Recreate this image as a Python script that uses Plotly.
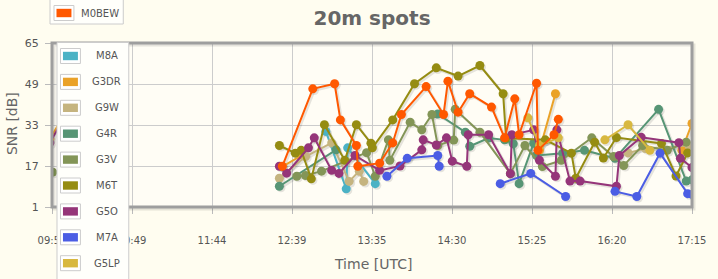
import plotly.graph_objects as go

# ---------------- data (time UTC, SNR dB); None = gap in the series ----------------
m8a_time = ["13:03", "13:17", "13:18", "13:37"]
m8a_snr = [30.5, 8.1, 24.1, 10.1]

g3dr_time = ["09:53", "10:06", None, "12:33", "12:47", None, "15:30", "15:41", None, "17:08", "17:15"]
g3dr_snr = [27.5, 40, None, 16.8, 21.3, None, 23.1, 45.2, None, 23.1, 33.6]

g9w_time = ["12:31", "12:49", "13:07", "13:19", "13:26", "13:29", None, "16:31", "16:43", "17:13"]
g9w_snr = [12.2, 20.7, 26.0, 11.0, 15.0, 11.0, None, 22.1, 23.8, 25.0]

g4r_time = ["12:31", "13:10", None, "14:20", "14:39", "14:42", "14:55", "15:06", "15:12", "15:16",
            "15:26", "15:28", "15:46", "16:01", "16:22", "16:52", "17:11", "17:15"]
g4r_snr = [9.1, 23.3, None, 37.3, 30.2, 24.7, 27.9, 27.2, 25.7, 10.1,
           25.9, 21.1, 22.0, 23.1, 20.0, 39.1, 11.1, 11.6]

g3v_time = ["09:55", None, "12:43", "12:49", "13:00", "13:31", "13:37", "13:46", "13:47", "14:01",
            "14:09", "14:16", "14:20", "14:31", "14:32", "14:49", "15:10", "15:20", "15:32", "15:45",
            "16:06", "16:21", "16:28", "16:41", "16:58", "17:11"]
g3v_snr = [14.6, None, 13.0, 13.3, 15.0, 22.2, 13.0, 27.2, 19.2, 34.1,
           31.1, 37.1, 25.0, 27.1, 39.1, 30.2, 14.0, 25.0, 16.8, 19.2,
           28.0, 20.7, 17.2, 25.0, 23.1, 26.3]

m6t_time = ["12:31", "12:42", "12:46", "12:53", "13:02", "13:16", "13:24", "13:34", "13:35", "13:49",
            "14:04", "14:19", "14:34", "14:49", "15:05", "15:07", "15:34", "15:52", "15:55", "16:08",
            "16:14", "16:23", "16:54", "17:04", "17:12"]
m6t_snr = [25.0, 22.0, 23.1, 12.0, 33.1, 19.2, 33.1, 25.9, 24.1, 35.0,
           49.1, 55.3, 52.1, 56.2, 45.2, 27.9, 27.2, 22.0, 12.2, 26.3,
           20.1, 28.1, 25.8, 13.1, 22.1]

g5o_time = ["09:53", "10:06", None, "12:31", "12:36", "12:51", "12:55", "13:07", "13:12", "13:23",
            "13:40", "13:54", "14:09", "14:10", "14:19", "14:26", "14:30", "14:40", "14:41", "14:55",
            "15:10", "15:11", "15:26", "15:30", "15:41", "15:42", "15:51", "15:58", "16:23", "16:25",
            "16:40", "17:06", "17:07", "17:15"]
g5o_snr = [26.0, 39, None, 16.9, 14.2, 24.1, 28.0, 15.3, 14.1, 21.1,
           15.3, 17.0, 23.3, 27.2, 25.2, 28.0, 18.9, 16.9, 29.2, 29.2,
           14.0, 29.2, 31.1, 19.2, 13.0, 31.1, 11.1, 11.1, 9.1, 21.1,
           28.2, 26.1, 20.0, 16.4]

m7a_time = ["13:45", "13:59", "14:20", "14:21", None, "15:03", "15:24", "15:48", None,
            "16:22", "16:37", "16:53", "17:12", "17:15"]
m7a_snr = [13.0, 20.0, 21.1, 16.9, None, 10.1, 14.1, 5.1, None,
           7.1, 5.1, 22.0, 6.2, 5.9]

g5lp_time = ["15:22", "15:30", "15:43", None, "16:15", "16:31", "16:46"]
g5lp_snr = [35.8, 25.0, 28.0, None, 27.2, 33.1, 23.1]

m0bew_time = ["12:33", "12:54", "13:09", "13:13", "13:24", "13:25", "13:40", "13:49", "13:55", "14:12",
              "14:24", "14:27", "14:34", "14:42", "14:57", "15:06", "15:13", "15:16", "15:28", "15:29",
              "15:40", "15:43"]
m0bew_snr = [16.9, 47.1, 49.1, 35.0, 25.0, 16.9, 18.1, 26.0, 37.1, 48.0,
             37.1, 50.1, 38.0, 45.2, 40.0, 28.0, 43.2, 29.2, 49.3, 23.1,
             29.2, 35.2]

x_tick_labels = ["09:54", "10:49", "11:44", "12:39", "13:35", "14:30", "15:25", "16:20", "17:15"]
y_tick_values = [1, 17, 33, 49, 65]

legend_names = ["M8A", "G3DR", "G9W", "G4R", "G3V", "M6T", "G5O", "M7A", "G5LP"]
top_legend_name = "M0BEW"

colors = {
    "M8A": "#4bb2c5", "G3DR": "#EAA228", "G9W": "#c5b47f", "G4R": "#579575",
    "G3V": "#839557", "M6T": "#958c12", "G5O": "#953579", "M7A": "#4b5de4",
    "G5LP": "#d8b83f", "M0BEW": "#ff5800",
}

series = [
    ("M8A", m8a_time, m8a_snr), ("G3DR", g3dr_time, g3dr_snr), ("G9W", g9w_time, g9w_snr),
    ("G4R", g4r_time, g4r_snr), ("G3V", g3v_time, g3v_snr), ("M6T", m6t_time, m6t_snr),
    ("G5O", g5o_time, g5o_snr), ("M7A", m7a_time, m7a_snr), ("G5LP", g5lp_time, g5lp_snr),
    ("M0BEW", m0bew_time, m0bew_snr),
]

# ---------------- layout geometry ----------------
W, H = 718, 279
ML, MR, MT, MB = 52, 24, 43, 72
PW = W - ML - MR
PH = H - MT - MB
X0 = 9 * 60 + 54.5
X1 = 17 * 60 + 15
Y0, Y1 = 1, 65


def to_min(s):
    if s is None:
        return None
    h, m = s.split(":")
    return int(h) * 60 + int(m)


def px(x):
    return (x - ML) / PW


def py(y):
    return (MT + PH - y) / PH


fig = go.Figure()

# shadows (offset copies of the same data)
dx = 1.6 * (X1 - X0) / PW
dy = 1.6 * (Y1 - Y0) / PH
for name, t, v in series:
    xs = [None if a is None else to_min(a) + dx for a in t]
    ys = [None if b is None else b - dy for b in v]
    fig.add_trace(go.Scatter(x=xs, y=ys, mode="lines+markers", showlegend=False, hoverinfo="skip",
                             line=dict(color="rgba(0,0,0,0.10)", width=2.5),
                             marker=dict(size=9, color="rgba(0,0,0,0.10)")))

for name, t, v in series:
    fig.add_trace(go.Scatter(x=[to_min(a) for a in t], y=v, mode="lines+markers", name=name,
                             showlegend=False, connectgaps=False,
                             line=dict(color=colors[name], width=2),
                             marker=dict(size=9, color=colors[name])))

tickvals = [X0 + i * (X1 - X0) / (len(x_tick_labels) - 1) for i in range(len(x_tick_labels))]

font_fam = "DejaVu Sans"
tick_col = "#555555"

shapes = []
# plot border + shadow
shapes.append(dict(type="rect", xref="paper", yref="paper", x0=px(ML + 2), x1=px(ML + PW + 2),
                   y0=py(MT + PH + 2), y1=py(MT + 2), line=dict(color="rgba(0,0,0,0.10)", width=3),
                   layer="above"))
shapes.append(dict(type="rect", xref="paper", yref="paper", x0=0, x1=1, y0=0, y1=1,
                   line=dict(color="#9e9e9e", width=3), layer="above"))

annotations = []
# main legend box
shapes.append(dict(type="rect", xref="paper", yref="paper", x0=px(57), x1=px(129), y0=py(300), y1=py(42.5),
                   fillcolor="#fffffb", line=dict(color="#cccccc", width=1), layer="above"))
for i, nm in enumerate(legend_names):
    yc = 56 + 25.9 * i
    shapes.append(dict(type="rect", xref="paper", yref="paper", x0=px(60.5), x1=px(80.5),
                       y0=py(yc + 7.5), y1=py(yc - 7.5), fillcolor="#ffffff",
                       line=dict(color="#cccccc", width=1), layer="above"))
    shapes.append(dict(type="rect", xref="paper", yref="paper", x0=px(63), x1=px(78),
                       y0=py(yc + 4.2), y1=py(yc - 4.2), fillcolor=colors[nm],
                       line=dict(width=0), layer="above"))
    annotations.append(dict(text=nm, xref="paper", yref="paper", x=px(107), y=py(yc),
                            xanchor="center", yanchor="middle", showarrow=False,
                            font=dict(family=font_fam, size=10, color=tick_col)))

# top legend box (M0BEW)
shapes.append(dict(type="rect", xref="paper", yref="paper", x0=px(50), x1=px(123.5), y0=py(24), y1=py(-3),
                   fillcolor="#fffffb", line=dict(color="#cccccc", width=1), layer="above"))
shapes.append(dict(type="rect", xref="paper", yref="paper", x0=px(54), x1=px(74), y0=py(20.5), y1=py(5.5),
                   fillcolor="#ffffff", line=dict(color="#cccccc", width=1), layer="above"))
shapes.append(dict(type="rect", xref="paper", yref="paper", x0=px(56.5), x1=px(71.5), y0=py(17.2), y1=py(8.8),
                   fillcolor=colors["M0BEW"], line=dict(width=0), layer="above"))
annotations.append(dict(text=top_legend_name, xref="paper", yref="paper", x=px(100.5), y=py(13),
                        xanchor="center", yanchor="middle", showarrow=False,
                        font=dict(family=font_fam, size=10, color=tick_col)))

# axis titles
annotations.append(dict(text="Time [UTC]", xref="paper", yref="paper", x=px(374), y=py(264),
                        xanchor="center", yanchor="middle", showarrow=False,
                        font=dict(family=font_fam, size=14, color="#666666")))
annotations.append(dict(text="SNR [dB]", xref="paper", yref="paper", x=px(12), y=py(124),
                        xanchor="center", yanchor="middle", showarrow=False, textangle=-90,
                        font=dict(family=font_fam, size=14, color="#666666")))

fig.update_layout(
    width=W, height=H,
    margin=dict(l=ML, r=MR, t=MT, b=MB, pad=0),
    paper_bgcolor="#fffdf0",
    plot_bgcolor="#fffdf5",
    showlegend=False,
    title=dict(text="<b>20m spots</b>", x=px(373), xref="paper", xanchor="center",
               y=1 - 18 / H, yref="container", yanchor="middle",
               font=dict(family=font_fam, size=20, color="#666666")),
    xaxis=dict(range=[X0, X1], tickvals=tickvals, ticktext=x_tick_labels, showgrid=True,
               gridcolor="#cccccc", gridwidth=1, zeroline=False, showline=False,
               ticks="outside", ticklen=6, tickcolor="#bbbbbb", ticklabelstandoff=18,
               tickfont=dict(family=font_fam, size=10, color=tick_col)),
    yaxis=dict(range=[Y0, Y1], tickvals=y_tick_values, showgrid=True, gridcolor="#cccccc",
               gridwidth=1, zeroline=False, showline=False, ticks="outside", ticklen=6,
               tickcolor="#bbbbbb", ticklabelstandoff=4,
               tickfont=dict(family=font_fam, size=11, color=tick_col)),
    shapes=shapes,
    annotations=annotations,
)

fig.write_html("out.html")
